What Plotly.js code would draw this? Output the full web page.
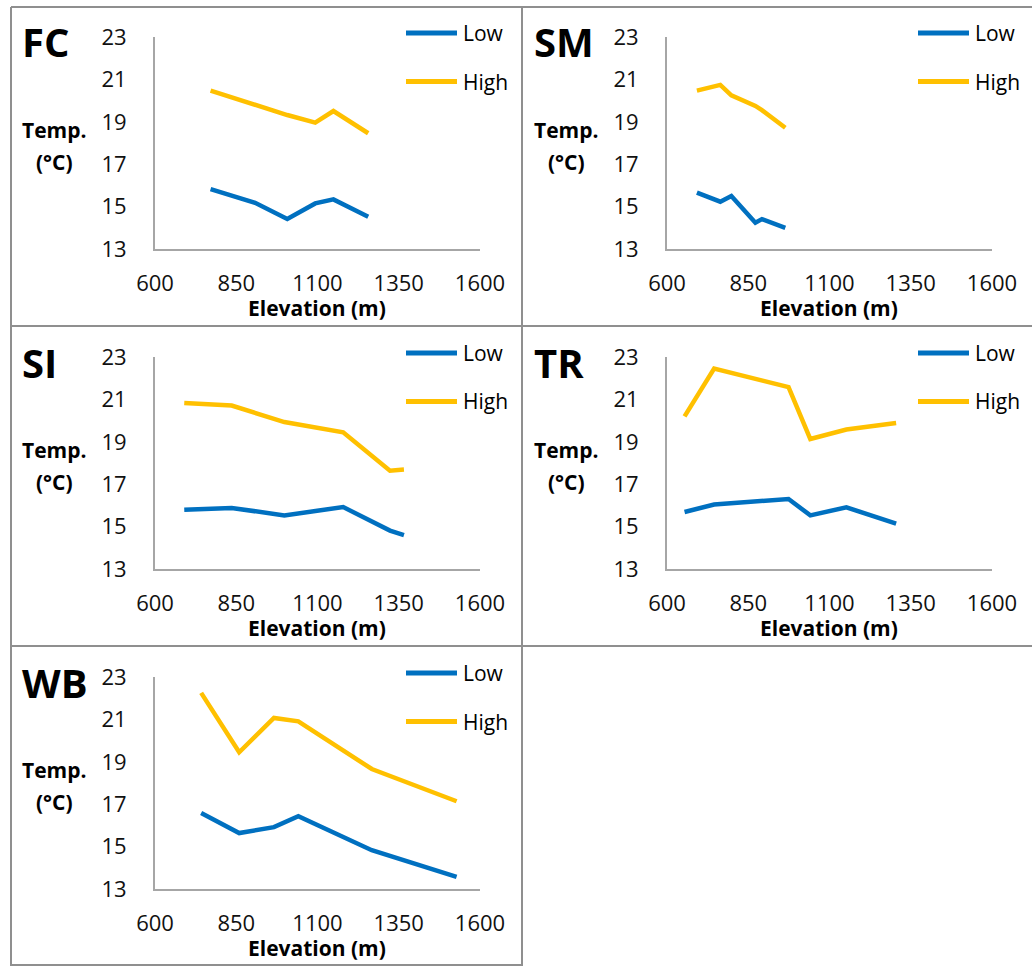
<!DOCTYPE html>
<html>
<head>
<meta charset="utf-8">
<script src="https://cdn.plot.ly/plotly-3.0.1.min.js"></script>
<style>html,body{margin:0;padding:0;background:#fff;}#chart{width:1032px;height:966px;}</style>
</head>
<body>
<div id="chart"></div>
<script>
// ---- data ----
const sites = ["FC", "SM", "SI", "TR", "WB"];
const seriesNames = ["Low", "High"];
const xTicks = [600, 850, 1100, 1350, 1600];
const yTicks = [13, 15, 17, 19, 21, 23];

const fcLowElev  = [771, 908, 1007, 1093, 1149, 1256];
const fcLow      = [15.82, 15.18, 14.42, 15.15, 15.34, 14.52];
const fcHighElev = [771, 1007, 1093, 1149, 1256];
const fcHigh     = [20.47, 19.32, 18.96, 19.51, 18.46];

const smElev = [692, 764, 798, 872, 892, 964];
const smLow  = [15.66, 15.23, 15.50, 14.24, 14.41, 14.00];
const smHigh = [20.47, 20.74, 20.25, 19.75, 19.55, 18.72];

const siElev = [690, 836, 998, 1179, 1323, 1366];
const siLow  = [15.80, 15.88, 15.53, 15.92, 14.81, 14.60];
const siHigh = [20.83, 20.71, 19.93, 19.45, 17.64, 17.69];

const trElev = [654, 745, 974, 1041, 1152, 1305];
const trLow  = [15.69, 16.04, 16.30, 15.53, 15.91, 15.14];
const trHigh = [20.20, 22.45, 21.58, 19.13, 19.58, 19.89];

const wbElev = [742, 859, 966, 1041, 1267, 1528];
const wbLow  = [16.58, 15.64, 15.92, 16.43, 14.83, 13.57];
const wbHigh = [22.25, 19.45, 21.07, 20.91, 18.66, 17.14];

const colors = {Low: "#0070C0", High: "#FFC000"};

// ---- layout helpers ----
const W = 1032, H = 966;
const px = x => x / W;
const py = y => 1 - y / H;
const FONT = '"Open Sans", "Noto Sans", sans-serif';

// panel geometry: [plot left, plot top] in pixels
const panels = [
  {site: "FC", left: 155, top: 37, low: [fcLowElev, fcLow], high: [fcHighElev, fcHigh]},
  {site: "SM", left: 667, top: 37, low: [smElev, smLow], high: [smElev, smHigh]},
  {site: "SI", left: 155, top: 357, low: [siElev, siLow], high: [siElev, siHigh]},
  {site: "TR", left: 667, top: 357, low: [trElev, trLow], high: [trElev, trHigh]},
  {site: "WB", left: 155, top: 677, low: [wbElev, wbLow], high: [wbElev, wbHigh]}
];
const PW = 325, PH = 212;

const data = [];
const layout = {
  width: W, height: H,
  margin: {l: 0, r: 0, t: 0, b: 0},
  paper_bgcolor: "#fff", plot_bgcolor: "#fff",
  showlegend: false,
  font: {family: FONT, color: "#111"},
  annotations: [], shapes: []
};

panels.forEach((p, i) => {
  const n = i + 1;
  const xa = n === 1 ? "x" : "x" + n;
  const ya = n === 1 ? "y" : "y" + n;
  const xk = n === 1 ? "xaxis" : "xaxis" + n;
  const yk = n === 1 ? "yaxis" : "yaxis" + n;
  data.push({x: p.low[0], y: p.low[1], name: seriesNames[0], type: "scatter", mode: "lines",
    line: {color: colors.Low, width: 4.5}, xaxis: xa, yaxis: ya});
  data.push({x: p.high[0], y: p.high[1], name: seriesNames[1], type: "scatter", mode: "lines",
    line: {color: colors.High, width: 4.5}, xaxis: xa, yaxis: ya});
  layout[xk] = {
    domain: [px(p.left), px(p.left + PW)], anchor: ya,
    range: [600, 1600], tickmode: "array", tickvals: xTicks, ticktext: xTicks.map(String),
    showgrid: false, zeroline: false, showline: true, linecolor: "#a6a6a6", linewidth: 2,
    ticks: "", ticklabelstandoff: 14,
    tickfont: {family: FONT, size: 22, color: "#111"}, fixedrange: true
  };
  layout[yk] = {
    domain: [py(p.top + PH), py(p.top)], anchor: xa,
    range: [13, 23], tickmode: "array", tickvals: yTicks, ticktext: yTicks.map(String),
    showgrid: false, zeroline: false, showline: true, linecolor: "#a6a6a6", linewidth: 2,
    ticks: "", ticklabelstandoff: 22,
    tickfont: {family: FONT, size: 22, color: "#111"}, fixedrange: true
  };
  const colOff = p.left - 155;
  // panel label
  layout.annotations.push({xref: "paper", yref: "paper", x: px(20 + colOff), y: py(p.top + 5),
    xanchor: "left", yanchor: "middle", text: "<b>" + p.site + "</b>", showarrow: false,
    font: {family: FONT, size: 40, color: "#000"}});
  // y axis title (two lines)
  layout.annotations.push({xref: "paper", yref: "paper", x: px(54 + colOff), y: py(p.top + 93),
    xanchor: "center", yanchor: "middle", text: "<b>Temp.</b>", showarrow: false,
    font: {family: FONT, size: 21, color: "#000"}});
  layout.annotations.push({xref: "paper", yref: "paper", x: px(54 + colOff), y: py(p.top + 125),
    xanchor: "center", yanchor: "middle", text: "<b>(°C)</b>", showarrow: false,
    font: {family: FONT, size: 21, color: "#000"}});
  // x axis title
  layout.annotations.push({xref: "paper", yref: "paper", x: px(317 + colOff), y: py(p.top + PH + 59),
    xanchor: "center", yanchor: "middle", text: "<b>Elevation (m)</b>", showarrow: false,
    font: {family: FONT, size: 21, color: "#000"}});
  // legend
  seriesNames.forEach((s, k) => {
    const ly = p.top - 4 + k * 48.5;
    layout.shapes.push({type: "line", xref: "paper", yref: "paper",
      x0: px(406 + colOff), x1: px(457 + colOff), y0: py(ly), y1: py(ly),
      line: {color: colors[s], width: 5}});
    layout.annotations.push({xref: "paper", yref: "paper", x: px(461 + colOff), y: py(ly),
      xanchor: "left", yanchor: "middle", text: s, showarrow: false,
      font: {family: FONT, size: 21, color: "#000"}});
  });
});

// panel borders
const border = {color: "#8f8f8f", width: 2};
[
  [11, 7, 1032, 7], [11, 7, 11, 966], [522, 7, 522, 966],
  [11, 326, 1032, 326], [11, 646, 1032, 646], [11, 965, 522, 965]
].forEach(b => layout.shapes.push({type: "line", xref: "paper", yref: "paper",
  x0: px(b[0]), y0: py(b[1]), x1: px(b[2]), y1: py(b[3]), line: border}));

Plotly.newPlot("chart", data, layout, {staticPlot: true, displayModeBar: false});
</script>
</body>
</html>
